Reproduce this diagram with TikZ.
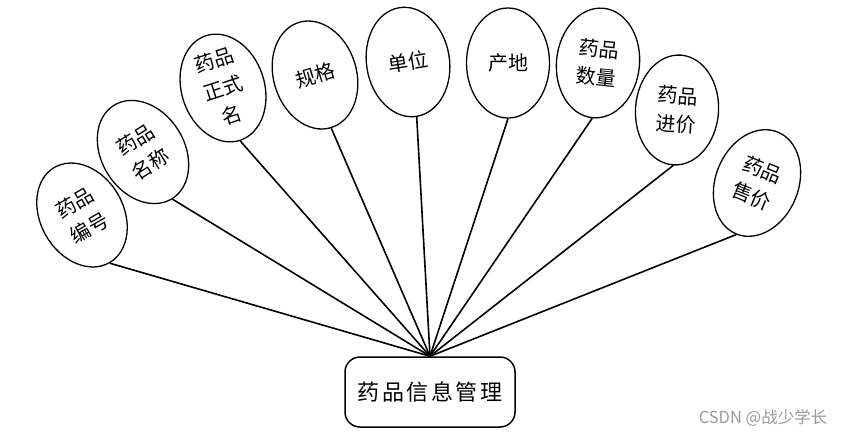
\documentclass[tikz,border=0pt]{standalone}
\usepackage{fontspec}
\setmainfont{Noto Sans CJK SC}
\usetikzlibrary{shapes.geometric,positioning}
\definecolor{markc}{HTML}{9A9A9A}
\tikzset{
  attr/.style={draw,ellipse,line width=1.3pt,fill=white,minimum width=83pt,minimum height=110pt,
    inner sep=0pt,align=center,font=\fontsize{20}{29}\selectfont},
  ent/.style={draw,line width=1.5pt,rounded corners=15pt,minimum width=170pt,minimum height=70pt,
    font=\fontsize{22}{26}\selectfont\addfontfeature{LetterSpace=12}},
  link/.style={line width=1.6pt}
}
\begin{document}
\begin{tikzpicture}[x=1pt,y=-1pt]
\useasboundingbox (0,0) rectangle (848,437);
\node[ent] (mgr) at (430,392) {药品信息管理};
\coordinate (hub) at (mgr.north);
% attributes, left to right
\foreach \n/\x/\y/\r/\t in {bh/82/215/30/{药品\\编号},
    mc/143/152/32/{药品\\名称},
    zs/223/88/18/{药品\\正式\\名},
    gg/315/75/17/{规格},
    dw/408/62/9/{单位},
    cd/508/63/0/{产地},
    sl/598/63/-6/{药品\\数量},
    jj/677/110/-4/{药品\\进价},
    sj/757/183/-22/{药品\\售价}}{
  \node[attr,rotate=\r] (\n) at (\x,\y) {\t};
  \draw[link] (\n.south) -- (hub);
}
\node[text=markc,font=\fontsize{16.5}{18}\selectfont] (mark) at (763,418) {CSDN @战少学长};
\end{tikzpicture}
\end{document}
